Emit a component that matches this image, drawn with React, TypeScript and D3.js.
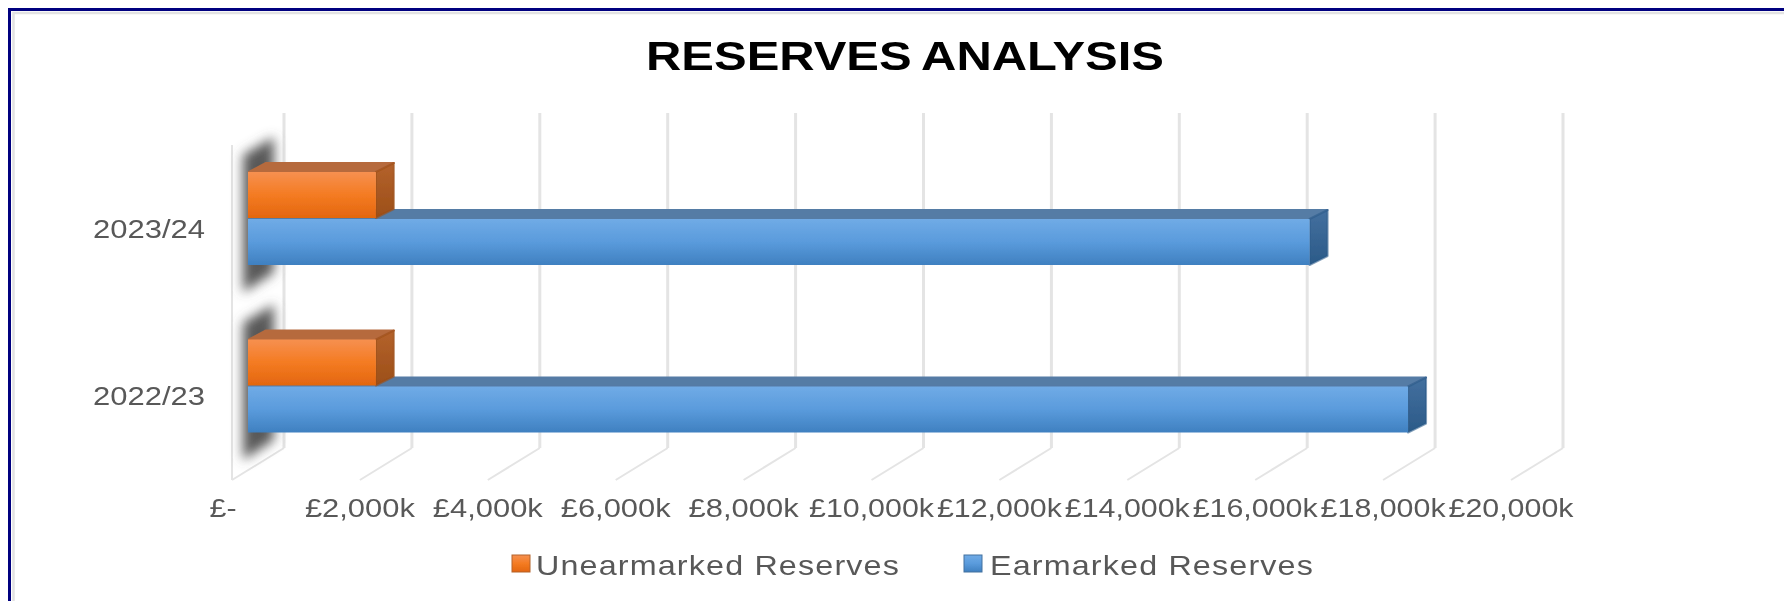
import React from "react";
import * as d3 from "d3";

const categories = ["2023/24", "2022/23"];
const seriesNames = ["Unearmarked Reserves", "Earmarked Reserves"];
const unearmarked = [2000, 2000];
const earmarked = [16600, 18140];
const xTicks = [0, 2000, 4000, 6000, 8000, 10000, 12000, 14000, 16000, 18000, 20000];

const width = 1784;
const height = 601;
const FONT = "'Liberation Sans', Arial, sans-serif";

// chart box: back wall of the 3D plot, floor runs forward from it
const back = { left: 284, right: 1563, top: 113, bottom: 448 };
const wall = { dx: -52, dy: 32 };
const plane = { dx: -36, dy: 22 }; // where the front face of the bars sits
const depth = { dx: 18, dy: -9 };

const x = d3.scaleLinear().domain([0, 20000]).range([0, back.right - back.left]);
const y0 = d3.scaleBand().domain(categories).range([back.top, back.bottom]);
const y1 = d3.scaleBand().domain(seriesNames).range([37, 131]);

const tickLabel = (v: number) => (v === 0 ? "£-" : "£" + d3.format(",")(v) + "k");
const tickWidth = (v: number) => (v === 0 ? 27 : v >= 10000 ? 125 : 110);

const colors = [
  { id: "orange", stops: ["#f69050", "#f47b22", "#e3660f"], top: "#b66b3e", side: ["#b4622c", "#9c4f18"] },
  { id: "blue", stops: ["#70abe6", "#5a9bdc", "#3f80c0"], top: "#557ba5", side: ["#44709f", "#2b5a88"] },
];

function Bar({ cat, value, s }: { cat: string; value: number; s: number }) {
  const c = colors[s];
  const left = back.left + plane.dx;
  const right = left + x(value);
  const top = y0(cat)! + plane.dy + y1(seriesNames[s])!;
  const bottom = top + y1.bandwidth() - 1;
  const d = depth;
  return (
    <g strokeLinejoin="round" strokeWidth={2}>
      <path
        d={`M${left + 1},${top}L${left + d.dx},${top + d.dy}H${right + d.dx}L${right},${top}Z`}
        fill={c.top}
        stroke={c.top}
      />
      <path
        d={`M${right},${top}L${right + d.dx},${top + d.dy}V${bottom + d.dy}L${right},${bottom}Z`}
        fill={`url(#side-${c.id})`}
        stroke={c.side[1]}
        strokeOpacity={0.6}
      />
      <rect x={left} y={top} width={right - left} height={bottom - top} fill={`url(#front-${c.id})`} />
    </g>
  );
}

function Shadow({ cat }: { cat: string }) {
  const left = back.left + plane.dx;
  const top = y0(cat)! + plane.dy;
  const h = y0.bandwidth();
  const path = `M${left - 5},${top + 20}L${left + 26},${top + 2}V${top + h - 30}L${left - 5},${top + h - 10}Z`;
  return <path d={path} fill="#585858" />;
}

export default function App() {
  return (
    <svg
      width={width}
      height={height}
      style={{ position: "absolute", left: 0, top: 0, display: "block", background: "#fff" }}
    >
      <defs>
        {colors.map((c) => (
          <React.Fragment key={c.id}>
            <linearGradient id={`front-${c.id}`} x1="0" y1="0" x2="0" y2="1">
              <stop offset="0" stopColor={c.stops[0]} />
              <stop offset="0.5" stopColor={c.stops[1]} />
              <stop offset="1" stopColor={c.stops[2]} />
            </linearGradient>
            <linearGradient id={`side-${c.id}`} x1="0" y1="0" x2="0" y2="1">
              <stop offset="0" stopColor={c.side[0]} />
              <stop offset="1" stopColor={c.side[1]} />
            </linearGradient>
          </React.Fragment>
        ))}
        <filter id="soft" x="-5%" y="-5%" width="110%" height="110%">
          <feGaussianBlur stdDeviation="0.7" />
        </filter>
        <filter id="shadow" filterUnits="userSpaceOnUse" x="180" y="90" width="160" height="420">
          <feGaussianBlur stdDeviation="6" />
        </filter>
      </defs>

      {/* frame */}
      <path d={`M9.5,${height}V9.5H${width}`} fill="none" stroke="#00007f" strokeWidth={3} />
      <path d={`M13.5,${height}V13H${width}`} fill="none" stroke="#e2e2e2" strokeWidth={2.5} />

      <g filter="url(#soft)">
        <text x={905} y={70} textAnchor="middle" fontFamily={FONT} fontWeight={700} fontSize={41} wordSpacing={-2} textLength={518} lengthAdjust="spacingAndGlyphs" fill="#000">
          RESERVES ANALYSIS
        </text>

        {/* gridlines and floor */}
        {xTicks.map((t) => {
          const gx = back.left + x(t);
          return (
            <g key={t} fill="none" stroke="#e4e4e4">
              <line x1={gx} x2={gx} y1={back.top} y2={back.bottom} strokeWidth={3} />
              <line x1={gx} x2={gx + wall.dx} y1={back.bottom} y2={back.bottom + wall.dy} strokeWidth={2} />
            </g>
          );
        })}
        <line
          x1={back.left + wall.dx}
          x2={back.left + wall.dx}
          y1={back.top + wall.dy}
          y2={back.bottom + wall.dy}
          stroke="#e4e4e4"
          strokeWidth={2}
        />

        <g filter="url(#shadow)">
          {categories.map((c) => (
            <Shadow key={c} cat={c} />
          ))}
        </g>

        {categories.map((c, i) => (
          <g key={c}>
            <Bar cat={c} value={earmarked[i]} s={1} />
            <Bar cat={c} value={unearmarked[i]} s={0} />
          </g>
        ))}

        {/* category labels */}
        {categories.map((c) => (
          <text
            key={c}
            x={205}
            y={y0(c)! + y0.bandwidth() / 2 + wall.dy + 9}
            textAnchor="end"
            fontFamily={FONT}
            fontSize={25}
            textLength={112}
            lengthAdjust="spacingAndGlyphs"
            fill="#595959"
          >
            {c}
          </text>
        ))}

        {/* value axis labels */}
        {xTicks.map((t) => (
          <text
            key={t}
            x={back.left + wall.dx + x(t) - (t === 0 ? 9 : 0)}
            y={517}
            textAnchor="middle"
            fontFamily={FONT}
            fontSize={25}
            textLength={tickWidth(t)}
            lengthAdjust="spacingAndGlyphs"
            fill="#595959"
          >
            {tickLabel(t)}
          </text>
        ))}

        {/* legend */}
        {seriesNames.map((name, i) => {
          const sx = [512, 964][i];
          const c = colors[i];
          return (
            <g key={name}>
              <rect x={sx} y={555} width={18} height={17} fill={`url(#front-${c.id})`} stroke={c.side[0]} strokeWidth={1} />
              <text
                x={sx + [24, 26][i]}
                y={575}
                fontFamily={FONT}
                fontSize={28}
                letterSpacing={1}
                textLength={[364, 324][i]}
                lengthAdjust="spacingAndGlyphs"
                fill="#595959"
              >
                {name}
              </text>
            </g>
          );
        })}
      </g>
    </svg>
  );
}
